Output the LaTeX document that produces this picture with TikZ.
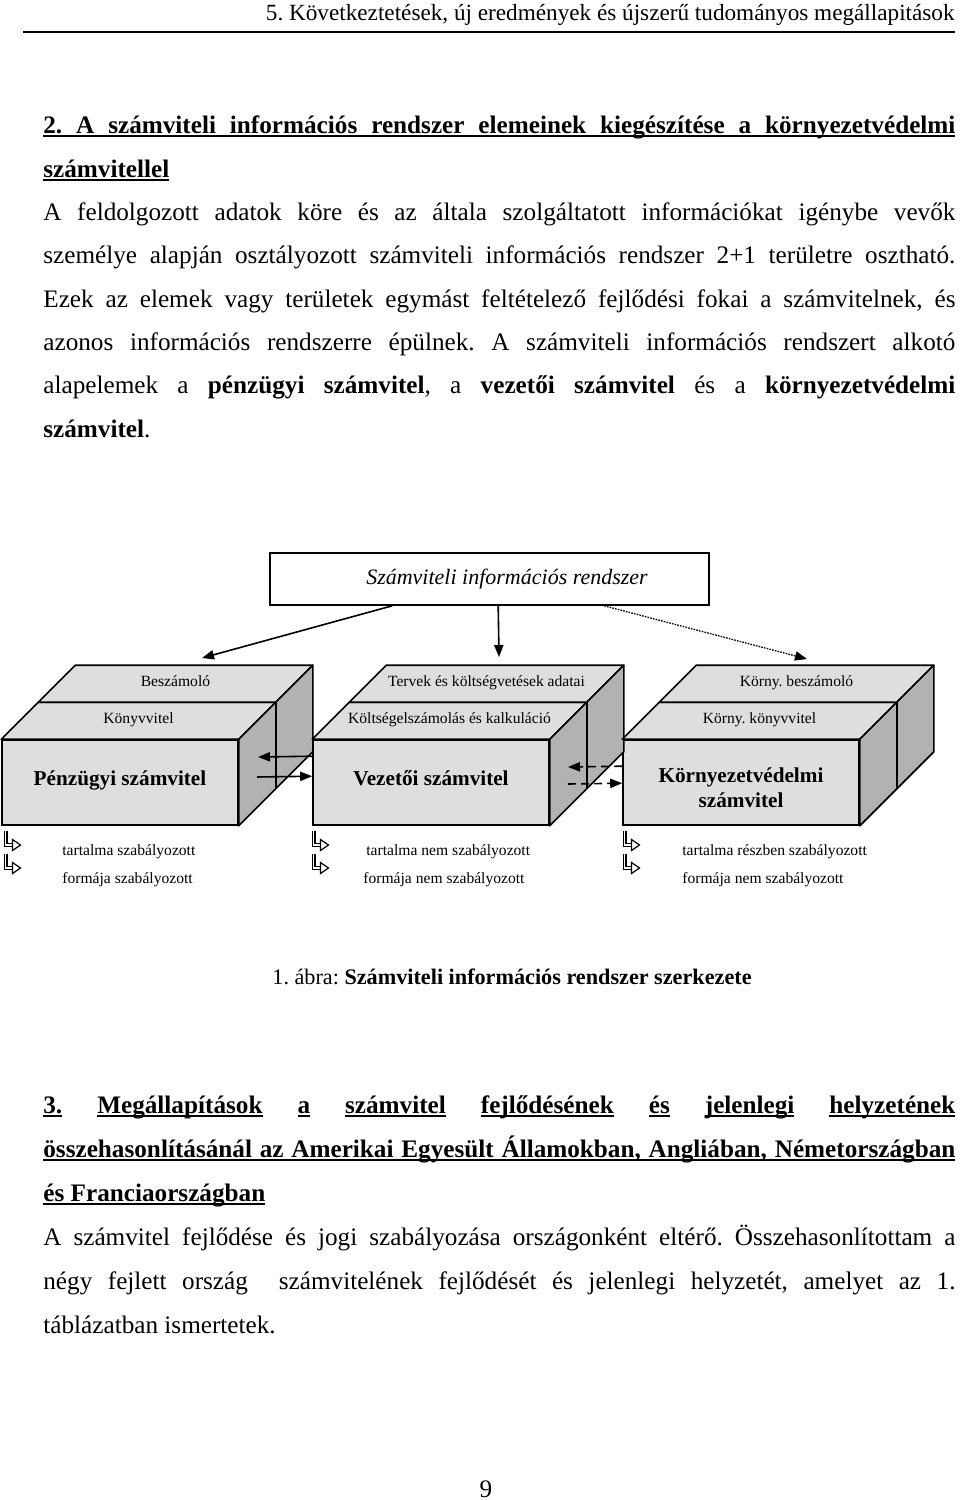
\documentclass[tikz,border=0pt]{standalone}
\usepackage{fontspec}
\setmainfont{Liberation Serif}
\usetikzlibrary{arrows.meta}
\frenchspacing

\definecolor{boxfront}{RGB}{222,222,222}
\definecolor{boxside}{RGB}{178,178,178}

\tikzstyle{textline} = [anchor=base west, inner sep=0pt, font=\fontsize{12.6}{14}\selectfont]
\tikzstyle{headline} = [textline, font=\fontsize{12.6}{14}\selectfont\bfseries]
\tikzstyle{front} = [rectangle, draw=black, fill=boxfront, line width=0.8pt, minimum width=118pt, minimum height=42.5pt, inner sep=0pt]
\tikzstyle{face} = [draw=black, line width=0.8pt, line join=round]
\tikzstyle{frontlabel} = [anchor=base, inner sep=0pt, align=center, font=\fontsize{10.6}{12.5}\selectfont\bfseries]
\tikzstyle{small} = [anchor=base, inner sep=0pt, font=\fontsize{7.8}{9}\selectfont]
\tikzstyle{legend} = [anchor=base west, inner sep=0pt, font=\fontsize{7.8}{9}\selectfont]
\tikzstyle{arrow} = [line width=0.8pt, -{Triangle[length=6pt, width=4.6pt]}]
\tikzstyle{dasharrow} = [arrow, dash pattern=on 4pt off 2.5pt]
\tikzstyle{dotarrow} = [arrow, line width=0.65pt, dash pattern=on 0.8pt off 0.6pt]

\newsavebox{\ulbox}
\newcommand{\ulin}[1]{\sbox{\ulbox}{#1}\rlap{\rule[-1.8pt]{\wd\ulbox}{0.8pt}}\usebox{\ulbox}}
\newcommand{\jline}[1]{\makebox[456pt][s]{#1}}

% the top and side faces of one box, from its front node
\newcommand{\slab}[1]{%
  \draw[face, fill=boxfront] (#1.north west) -- (#1.north east) -- ([shift={(37,-37)}]#1.north east) -- ([shift={(37,-37)}]#1.north west) -- cycle;
  \draw[face, fill=boxfront] ([shift={(37,-37)}]#1.north west) -- ([shift={(37,-37)}]#1.north east) -- ([shift={(74,-74)}]#1.north east) -- ([shift={(74,-74)}]#1.north west) -- cycle;
  \draw[face, fill=boxside] (#1.north east) -- ([shift={(74,-74)}]#1.north east) -- ([shift={(74,-74)}]#1.south east) -- (#1.south east) -- cycle;
  \draw[face] ([shift={(37,-37)}]#1.north east) -- ([shift={(37,-37)}]#1.south east);}

% hollow bent arrow of the legend, corner at (x,y)
\newcommand{\subarrow}[2]{%
  \draw[line width=0.55pt, double distance=0.9pt] (#1,#2-14) -- (#1,#2) -- (#1+7,#2);
  \draw[line width=0.6pt, fill=white, line join=miter] (#1+7,#2-5.5) -- (#1+15,#2) -- (#1+7,#2+5.5) -- cycle;}

\begin{document}
\begin{tikzpicture}[x=0.5pt, y=-0.5pt]
\useasboundingbox (0,0) rectangle (960,1500);

% header
\node (header) [textline, anchor=base east, font=\fontsize{11.6}{14}\selectfont] at (955,20) {5. Következtetések, új eredmények és újszerű tudományos megállapitások};
\coordinate (rulel) at (23,32);
\coordinate (ruler) at (955,32);
\draw [line width=0.7pt] (rulel) -- (ruler);

% section 2
\node (hA) [headline] at (43,133) {\ulin{\jline{2. A számviteli információs rendszer elemeinek kiegészítése a környezetvédelmi}}};
\node (hB) [headline] at (43,177) {\ulin{számvitellel}};
\node (pA) [textline] at (43,220) {\jline{A feldolgozott adatok köre és az általa szolgáltatott információkat igénybe vevők}};
\node (pB) [textline] at (43,263) {\jline{személye alapján osztályozott számviteli információs rendszer 2+1 területre osztható.}};
\node (pC) [textline] at (43,307) {\jline{Ezek az elemek vagy területek egymást feltételező fejlődési fokai a számvitelnek, és}};
\node (pD) [textline] at (43,350) {\jline{azonos információs rendszerre épülnek. A számviteli információs rendszert alkotó}};
\node (pE) [textline] at (43,393) {\jline{alapelemek a \textbf{pénzügyi számvitel}, a \textbf{vezetői számvitel} és a \textbf{környezetvédelmi}}};
\node (pF) [textline] at (43,437) {\textbf{számvitel}.};

% figure
\node (title) [rectangle, draw=black, line width=0.8pt, minimum width=219.5pt, minimum height=26pt] at (489.5,579) {};
\node (titletext) [inner sep=0pt, font=\fontsize{11}{13}\selectfont\itshape] at ([xshift=8.75pt]title.center) {Számviteli információs rendszer};

\node (penz) [front] at (120,782.5) {};
\node (vez) [front] at (431,782.5) {};
\node (korny) [front] at (741,782.5) {};
\slab{penz}
\slab{vez}
\slab{korny}

\node (penzbesz) [small] at ([shift={(55.5,-53)}]penz.north) {Beszámoló};
\node (penzkonyv) [small] at ([shift={(18.5,-16)}]penz.north) {Könyvvitel};
\node (vezterv) [small] at ([shift={(55.5,-53)}]vez.north) {Tervek és költségvetések adatai};
\node (vezkolt) [small] at ([shift={(18.5,-16)}]vez.north) {Költségelszámolás és kalkuláció};
\node (kornybesz) [small] at ([shift={(55.5,-53)}]korny.north) {Körny. beszámoló};
\node (kornykonyv) [small] at ([shift={(18.5,-16)}]korny.north) {Körny. könyvvitel};

\node (penzname) [frontlabel] at ([yshift=-1.25pt]penz.center) {Pénzügyi számvitel};
\node (vezname) [frontlabel] at ([yshift=-1.25pt]vez.center) {Vezetői számvitel};
\node (kornyname) [frontlabel] at ([yshift=-12.25pt]korny.center) {Környezetvédelmi\\számvitel};

\coordinate (penzin) at (202,658);
\coordinate (vezin) at (499,657);
\coordinate (kornyin) at (807,659);
\draw [arrow] ([xshift=61.5pt]title.south west) -- (penzin);
\draw [arrow] ([xshift=114.5pt]title.south west) -- (vezin);
\draw [dotarrow] ([xshift=167.5pt]title.south west) -- (kornyin);

\coordinate (pvback) at (258,757);
\coordinate (pvfrom) at (257,777);
\coordinate (vkback) at (568,767);
\coordinate (vkfrom) at (568,784);
\draw [arrow] ([yshift=-8.5pt]vez.north west) -- (pvback);
\draw [arrow] (pvfrom) -- ([yshift=-18.5pt]vez.north west);
\draw [dasharrow] ([yshift=-13.5pt]korny.north west) -- (vkback);
\draw [dasharrow] (vkfrom) -- ([yshift=-22pt]korny.north west);

% legend
\subarrow{5.5}{845}
\subarrow{5.5}{868}
\subarrow{313.5}{845}
\subarrow{313.5}{868}
\subarrow{624.5}{845}
\subarrow{624.5}{868}
\node (penztart) [legend] at (62,855) {tartalma szabályozott};
\node (penzform) [legend] at (62,883) {formája szabályozott};
\node (veztart) [legend] at (366,855) {tartalma nem szabályozott};
\node (vezform) [legend] at (363,883) {formája nem szabályozott};
\node (kornytart) [legend] at (682,855) {tartalma részben szabályozott};
\node (kornyform) [legend] at (682,883) {formája nem szabályozott};

\node (caption) [textline, anchor=base, font=\fontsize{11.1}{13}\selectfont] at (512,984) {1. ábra: \textbf{Számviteli információs rendszer szerkezete}};

% section 3
\node (hC) [headline] at (43,1113) {\jline{\ulin{3.} \ulin{Megállapítások} \ulin{a} \ulin{számvitel} \ulin{fejlődésének} \ulin{és} \ulin{jelenlegi} \ulin{helyzetének}}};
\node (hD) [headline] at (43,1157) {\ulin{\jline{összehasonlításánál az Amerikai Egyesült Államokban, Angliában, Németországban}}};
\node (hE) [headline] at (43,1201) {\ulin{és Franciaországban}};
\node (qA) [textline] at (43,1245) {\jline{A számvitel fejlődése és jogi szabályozása országonként eltérő. Összehasonlítottam a}};
\node (qB) [textline] at (43,1289) {\jline{négy fejlett ország \ számvitelének fejlődését és jelenlegi helyzetét, amelyet az 1.}};
\node (qC) [textline] at (43,1333) {táblázatban ismertetek.};

\node (pageno) [textline, anchor=base] at (486,1497) {9};
\end{tikzpicture}
\end{document}
